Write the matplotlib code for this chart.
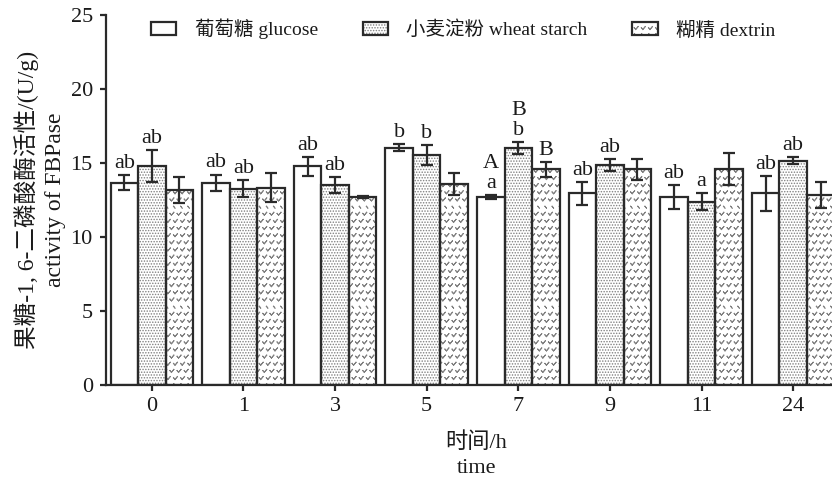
import numpy as np
import matplotlib
matplotlib.use("Agg")
import matplotlib.pyplot as plt
from matplotlib import hatch as mhatch
from matplotlib.path import Path
from matplotlib.legend_handler import HandlerTuple

# ---- data -------------------------------------------------------------
times = ["0", "1", "3", "5", "7", "9", "11", "24"]

glucose = [13.67, 13.67, 14.77, 16.03, 12.70, 12.95, 12.70, 12.95]
glucose_err = [0.52, 0.55, 0.65, 0.25, 0.15, 0.78, 0.80, 1.17]

wheat = [14.80, 13.27, 13.51, 15.52, 16.03, 14.84, 12.39, 15.16]
wheat_err = [1.08, 0.56, 0.54, 0.68, 0.40, 0.40, 0.56, 0.25]

dextrin = [13.18, 13.33, 12.70, 13.58, 14.57, 14.57, 14.57, 12.84]
dextrin_err = [0.85, 0.97, 0.05, 0.72, 0.50, 0.72, 1.08, 0.90]

glucose_sig = ["ab", "ab", "ab", "b", "A\na", "ab", "ab", "ab"]
wheat_sig = ["ab", "ab", "ab", "b", "B\nb", "ab", "a", "ab"]
dextrin_sig = ["", "", "", "", "B", "", "", ""]

series_names = ["葡萄糖 glucose", "小麦淀粉 wheat starch", "糊精 dextrin"]


# ---- a small "v" fill pattern, registered in place of the '*' hatch ----
class VeeHatch(mhatch.Shapes):
    size = 0.42
    filled = True

    def __init__(self, hatch, density):
        self.num_rows = hatch.count("*") * 7
        # zero-area closed outline, so only the stroke of the "v" shows
        self.shape_vertices = np.array(
            [[-0.5, 0.3], [0.0, -0.3], [0.5, 0.3], [0.0, -0.3], [-0.5, 0.3]])
        self.shape_codes = np.array(
            [Path.MOVETO, Path.LINETO, Path.LINETO, Path.LINETO, Path.LINETO],
            dtype=Path.code_type)
        super().__init__(hatch, density)


mhatch._hatch_types = [t for t in mhatch._hatch_types if t.__name__ != "Stars"]
mhatch._hatch_types.append(VeeHatch)

# ---- style -------------------------------------------------------------
plt.rcParams["font.family"] = ["Liberation Serif", "Noto Sans CJK SC", "DejaVu Sans"]
plt.rcParams["hatch.linewidth"] = 0.7

dark = "#2a2a2a"
text_col = "#1a1a1a"
pattern_grey = "#808080"

fig = plt.figure(figsize=(8.32, 4.82), dpi=100)
ax = fig.add_axes([106 / 832, 1 - 385 / 482, 733 / 832, 370 / 482])

x = np.arange(len(times))
width = 0.30
offsets = [-width, 0.0, width]
values = [glucose, wheat, dextrin]
errors = [glucose_err, wheat_err, dextrin_err]
letters = [glucose_sig, wheat_sig, dextrin_sig]
hatches = [None, "......", "**"]

handles = []
for off, vals, errs, sig, hat, name in zip(offsets, values, errors, letters,
                                           hatches, series_names):
    pos = x + off
    fill = ax.bar(pos, vals, width, color="white", edgecolor=pattern_grey,
                  linewidth=0, hatch=hat, zorder=2)
    outline = ax.bar(pos, vals, width, facecolor="none", edgecolor=dark,
                     linewidth=1.6, zorder=3)
    ax.errorbar(pos, vals, yerr=errs, fmt="none", ecolor=dark,
                elinewidth=1.6, capsize=4.6, capthick=1.6, zorder=4)
    for p, v, e, s in zip(pos, vals, errs, sig):
        if s:
            ax.annotate(s, xy=(p, v + e), xytext=(0, 1.5),
                        textcoords="offset points", ha="center", va="bottom",
                        fontsize=16, color=text_col, linespacing=1.05,
                        zorder=5)
    handles.append((fill[0], outline[0]))

ax.set_xlim(-0.5, len(times) - 0.5)
ax.set_ylim(0, 25)
ax.set_yticks([0, 5, 10, 15, 20, 25])
ax.set_xticks(x)
ax.set_xticklabels(times)

for side in ("top", "right"):
    ax.spines[side].set_visible(False)
for side in ("left", "bottom"):
    ax.spines[side].set_color(dark)
    ax.spines[side].set_linewidth(1.6)

ax.tick_params(axis="both", direction="out", length=4.5, width=1.6,
               color=dark, labelsize=16, labelcolor=text_col)
ax.tick_params(axis="y", pad=5)
ax.tick_params(axis="x", pad=4)

ax.set_ylabel("果糖-1, 6-二磷酸酶活性/(U/g)\nactivity of FBPase",
              fontsize=17, color=text_col, linespacing=1.4)
ax.yaxis.set_label_coords(-0.054, 0.5)
ax.set_xlabel("时间/h\ntime", fontsize=16, color=text_col, linespacing=1.45)
ax.xaxis.set_label_coords(0.505, -0.128)

fig.legend(handles, series_names, loc="center left",
           bbox_to_anchor=(151 / 832, 1 - 29 / 482), ncol=3, frameon=False,
           fontsize=14, handlelength=1.3, handleheight=0.7,
           handletextpad=0.95, columnspacing=2.3, borderpad=0,
           borderaxespad=0,
           handler_map={tuple: HandlerTuple(ndivide=1, pad=0)},
           labelcolor=text_col)

fig.savefig("out.png", dpi=100)
